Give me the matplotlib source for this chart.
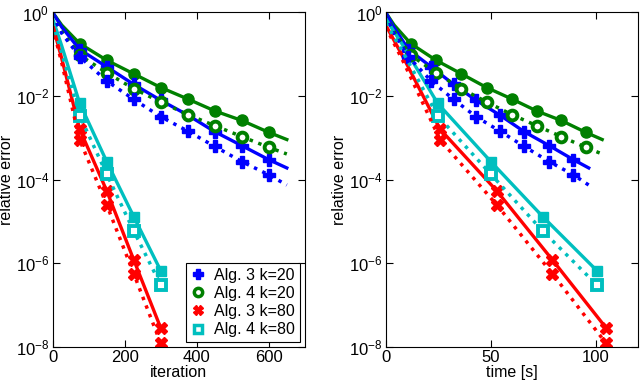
import matplotlib
matplotlib.use("Agg")
import matplotlib.pyplot as plt
from matplotlib.lines import Line2D
from matplotlib.ticker import LogLocator, NullLocator

plt.rcParams['font.family'] = ['Liberation Sans', 'DejaVu Sans']
plt.rcParams['mathtext.fontset'] = 'custom'
plt.rcParams['mathtext.rm'] = 'Liberation Sans'

# iterations (k=20 runs, k=80 runs)
it20 = [0, 25, 75, 150, 225, 300, 375, 450, 525, 600, 650]
it80 = [0, 25, 75, 150, 225, 300]

# wall-clock time [s] for the same points
t4k20 = [0, 4.0, 11.9, 23.9, 36.0, 48.0, 60.0, 71.8, 83.5, 95.2, 103.0]
t3k20 = [0, 3.8, 10.8, 21.6, 32.3, 43.0, 54.3, 65.9, 77.8, 89.3, 96.6]
t4k80 = [0, 8.3, 24.7, 50.0, 74.7, 100.5]
t3k80 = [0, 8.6, 25.9, 52.8, 79.3, 104.9]

# relative error, solid and dotted curves
a4k20 = [1.0, 0.50, 0.18, 0.072, 0.034, 0.016, 8.5e-3, 4.4e-3, 2.6e-3, 1.35e-3, 9.1e-4]
a4k20d = [0.89, 0.35, 0.095, 0.036, 0.015, 7.2e-3, 3.6e-3, 1.95e-3, 1.07e-3, 5.9e-4, 4.1e-4]
a3k20 = [1.0, 0.45, 0.13, 0.050, 0.019, 7.9e-3, 3.5e-3, 1.4e-3, 6.5e-4, 3.0e-4, 1.9e-4]
a3k20d = [0.89, 0.32, 0.087, 0.023, 8.3e-3, 3.2e-3, 1.45e-3, 6.2e-4, 2.7e-4, 1.3e-4, 7.4e-5]
a4k80 = [0.71, 0.16, 6.7e-3, 2.7e-4, 1.3e-5, 6.6e-7]
a4k80d = [0.56, 0.11, 3.4e-3, 1.35e-4, 5.9e-6, 3.0e-7]
a3k80 = [0.5, 0.08, 1.6e-3, 5.4e-5, 1.2e-6, 2.8e-8]
a3k80d = [0.45, 0.063, 8.9e-4, 2.5e-5, 5.6e-7, 1.2e-8]

blue = (0, 0, 1)
green = (0, 0.5, 0)
red = (1, 0, 0)
cyan = (0, 0.75, 0.75)

fs = 12

fig = plt.figure(figsize=(6.4, 3.83), dpi=100)
ax1 = fig.add_axes([0.0823, 0.0948, 0.394, 0.8726])
ax2 = fig.add_axes([0.6027, 0.0948, 0.394, 0.8726])


def draw(ax, x20a4, x20a3, x80a4, x80a3):
    m20 = slice(2, 10)
    m80 = slice(2, 6)
    # solid curves, filled markers
    ax.plot(x20a4, a4k20, '-', color=green, lw=2.4, marker='o', ms=8, markevery=m20)
    ax.plot(x20a3, a3k20, '-', color=blue, lw=2.4, marker='P', ms=8, markevery=m20)
    ax.plot(x80a4, a4k80, '-', color=cyan, lw=2.4, marker='s', ms=7, markevery=m80)
    ax.plot(x80a3, a3k80, '-', color=red, lw=2.4, marker='X', ms=8, markevery=m80)
    # dotted curves
    ax.plot(x20a4, a4k20d, ':', color=green, lw=2.5, marker='o', ms=7, mfc='white',
            mew=2.8, markevery=m20)
    ax.plot(x20a3, a3k20d, ':', color=blue, lw=2.5, marker='P', ms=8, markevery=m20)
    ax.plot(x80a4, a4k80d, ':', color=cyan, lw=2.5, marker='s', ms=6.5, mfc='white',
            mew=2.8, markevery=m80)
    ax.plot(x80a3, a3k80d, ':', color=red, lw=2.5, marker='X', ms=8, markevery=m80)

    ax.set_yscale('log')
    ax.set_ylim(1e-8, 1)
    ax.yaxis.set_major_locator(LogLocator(base=100))
    ax.yaxis.set_minor_locator(NullLocator())
    ax.tick_params(direction='in', top=True, right=True, labelsize=fs, length=5, pad=2.5)
    ax.set_ylabel('relative error', fontsize=11.5, labelpad=1)
    for s in ax.spines.values():
        s.set_linewidth(0.8)


draw(ax1, it20, it20, it80, it80)
ax1.set_xlim(0, 700)
ax1.set_xticks([0, 200, 400, 600])
ax1.set_xlabel('iteration', fontsize=11.5, labelpad=0)

draw(ax2, t4k20, t3k20, t4k80, t3k80)
ax2.set_xlim(0, 120)
ax2.set_xticks([0, 50, 100])
ax2.set_xlabel('time [s]', fontsize=11.5, labelpad=0)

handles = [
    Line2D([], [], ls='none', color=blue, marker='P', ms=7),
    Line2D([], [], ls='none', color=green, marker='o', ms=6, mfc='white', mew=2.5),
    Line2D([], [], ls='none', color=red, marker='X', ms=7),
    Line2D([], [], ls='none', color=cyan, marker='s', ms=6, mfc='white', mew=2.5),
]
labels = ['Alg. 3 k=20', 'Alg. 4 k=20', 'Alg. 3 k=80', 'Alg. 4 k=80']
leg = ax1.legend(handles, labels, loc='lower right', fontsize=11.5, fancybox=False,
                 edgecolor='black', framealpha=1, handletextpad=0.5, labelspacing=0.2,
                 borderpad=0.3, handlelength=1.0, borderaxespad=0.3)
leg.get_frame().set_linewidth(0.8)

fig.savefig('out.png', dpi=100)
